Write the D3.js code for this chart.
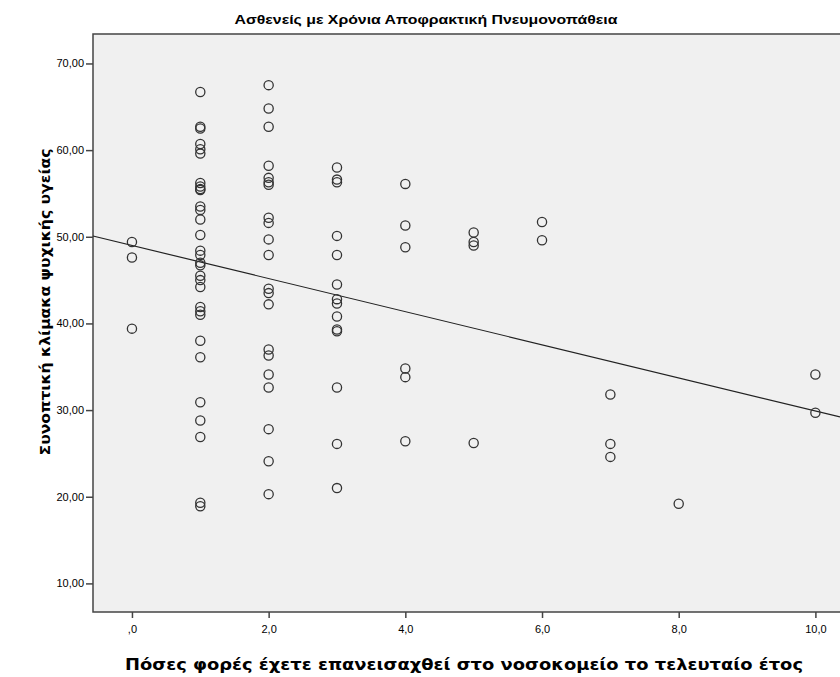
<!DOCTYPE html>
<html>
<head>
<meta charset="utf-8">
<script src="https://cdn.jsdelivr.net/npm/d3@7"></script>
<style>
  body { margin: 0; background: #fff; }
  svg text { font-family: "Liberation Sans", Arial, sans-serif; fill: #000; }
</style>
</head>
<body>
<div id="chart"></div>
<script>
// admissions in last year (x) and the mental health scores seen at each value
var admissionCounts = [0, 1, 2, 3, 4, 5, 6, 7, 8, 10];
var scoresByCount = [
    [49.4, 47.6, 39.4],
    [66.7, 62.7, 62.5, 60.7, 60.1, 59.6, 56.2, 55.8, 55.5, 55.4, 53.5, 53.1, 52.0, 50.2, 48.4, 47.9,
     47.0, 46.7, 45.5, 45.0, 44.2, 41.9, 41.4, 41.0, 38.0, 36.1, 30.9, 28.8, 26.9, 19.3, 18.9],
    [67.5, 64.8, 62.7, 58.2, 56.8, 56.3, 56.0, 52.2, 51.6, 49.7, 47.9, 44.0, 43.5, 42.2,
     37.0, 36.3, 34.1, 32.6, 27.8, 24.1, 20.3],
    [58.0, 56.6, 56.3, 50.1, 47.9, 44.5, 42.8, 42.3, 40.8, 39.3, 39.1, 32.6, 26.1, 21.0],
    [56.1, 51.3, 48.8, 34.8, 33.8, 26.4],
    [50.5, 49.4, 49.0, 26.2],
    [51.7, 49.6],
    [31.8, 26.1, 24.6],
    [19.2],
    [34.1, 29.7]
];
// fitted regression line
var fitIntercept = 49.0;
var fitSlope = -1.91;

var xTicks = [0, 2, 4, 6, 8, 10];
var xTickLabels = [",0", "2,0", "4,0", "6,0", "8,0", "10,0"];
var yTicks = [10, 20, 30, 40, 50, 60, 70];
var yTickLabels = ["10,00", "20,00", "30,00", "40,00", "50,00", "60,00", "70,00"];

var title = "Ασθενείς με Χρόνια Αποφρακτική Πνευμονοπάθεια";
var xTitle = "Πόσες φορές έχετε επανεισαχθεί στο νοσοκομείο το τελευταίο έτος";
var yTitle = "Συνοπτική κλίμακα ψυχικής υγείας";

var points = [];
admissionCounts.forEach(function (c, i) {
    scoresByCount[i].forEach(function (s) {
        points.push({count: c, score: s});
    });
});

var w = 840, h = 677;
var margin = {top: 34, right: 0, bottom: 65, left: 93};
var width = w - margin.left - margin.right;
var height = h - margin.top - margin.bottom;

var x = d3.scaleLinear().domain([-0.57, 10.36]).range([0, width]);
var y = d3.scaleLinear().domain([6.7, 73.4]).range([height, 0]);

var svg = d3.select("#chart").append("svg")
    .attr("width", w)
    .attr("height", h);

var g = svg.append("g")
    .attr("transform", "translate(" + margin.left + "," + margin.top + ")");

// plot background
g.append("rect")
    .attr("width", width)
    .attr("height", height)
    .attr("fill", "#f0f0f0");

// frame: top, left, bottom
g.append("path")
    .attr("d", "M" + (width + 2) + ",0H0V" + height + "H" + (width + 2))
    .attr("fill", "none")
    .attr("stroke", "#444")
    .attr("stroke-width", 1.5);

// y axis
var yAxis = g.append("g")
    .call(d3.axisLeft(y).tickValues(yTicks).tickSize(7).tickPadding(2)
        .tickFormat(function (d, i) { return yTickLabels[i]; }));
yAxis.select(".domain").remove();
yAxis.selectAll("line").attr("stroke", "#444").attr("stroke-width", 1.5);
yAxis.selectAll("text").style("font-size", "11px").attr("fill", "#000");

// x axis
var xAxis = g.append("g")
    .attr("transform", "translate(0," + height + ")")
    .call(d3.axisBottom(x).tickValues(xTicks).tickSize(6).tickPadding(7)
        .tickFormat(function (d, i) { return xTickLabels[i]; }));
xAxis.select(".domain").remove();
xAxis.selectAll("line").attr("stroke", "#444").attr("stroke-width", 1.5);
xAxis.selectAll("text").style("font-size", "11px").attr("fill", "#000");

// regression line
var x0 = x.domain()[0], x1 = x.domain()[1];
g.append("line")
    .attr("x1", x(x0))
    .attr("y1", y(fitIntercept + fitSlope * x0))
    .attr("x2", x(x1))
    .attr("y2", y(fitIntercept + fitSlope * x1))
    .attr("stroke", "#222")
    .attr("stroke-width", 1.2);

// points
g.append("g")
    .selectAll("circle")
    .data(points)
    .enter().append("circle")
    .attr("cx", function (d) { return x(d.count); })
    .attr("cy", function (d) { return y(d.score); })
    .attr("r", 4.6)
    .attr("fill", "none")
    .attr("stroke", "#333")
    .attr("stroke-width", 1.3);

// titles
svg.append("text")
    .attr("x", 426)
    .attr("y", 24)
    .attr("text-anchor", "middle")
    .style("font-family", "'Liberation Sans Narrow', 'Liberation Sans', Arial, sans-serif")
    .style("font-weight", "bold")
    .style("font-size", "12px")
    .attr("textLength", 383)
    .attr("lengthAdjust", "spacingAndGlyphs")
    .text(title);

svg.append("text")
    .attr("x", 464)
    .attr("y", 670)
    .attr("text-anchor", "middle")
    .style("font-family", "'DejaVu Sans', Verdana, sans-serif")
    .style("font-weight", "bold")
    .style("font-size", "15px")
    .attr("textLength", 678)
    .attr("lengthAdjust", "spacingAndGlyphs")
    .text(xTitle);

svg.append("text")
    .attr("transform", "translate(50," + 302 + ") rotate(-90)")
    .attr("text-anchor", "middle")
    .style("font-family", "'DejaVu Sans', Verdana, sans-serif")
    .style("font-weight", "bold")
    .style("font-size", "14px")
    .attr("textLength", 307)
    .attr("lengthAdjust", "spacingAndGlyphs")
    .text(yTitle);
</script>
</body>
</html>
